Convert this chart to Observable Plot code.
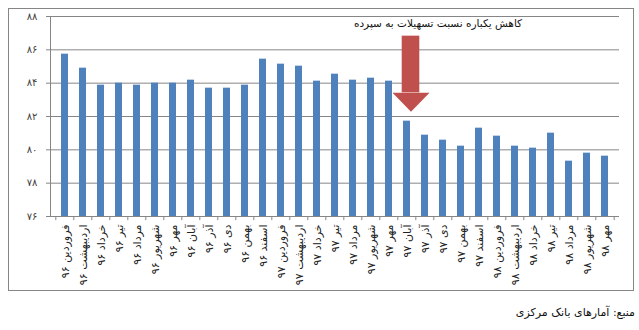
<!DOCTYPE html>
<html>
<head>
<meta charset="utf-8">
<script src="https://cdn.jsdelivr.net/npm/d3@7"></script>
<script src="https://cdn.jsdelivr.net/npm/@observablehq/plot@0.6"></script>
<style>
  html, body { margin: 0; padding: 0; background: #fff; }
  body { width: 639px; height: 330px; position: relative; font-family: "DejaVu Sans", sans-serif; }
  #box { position: absolute; left: 8px; top: 8px; width: 624px; height: 281px; border: 1px solid #868686; }
  #box svg { display: block; }
  #caption { position: absolute; right: 4px; top: 305px; font-size: 11px; direction: rtl; color: #111; line-height: 16px; }
</style>
</head>
<body>
<div id="box"></div>
<div id="caption">منبع: آمارهای بانک مرکزی</div>
<script>
const months = ["فروردین","اردیبهشت","خرداد","تیر","مرداد","شهریور","مهر","آبان","آذر","دی","بهمن","اسفند"];
const categories = [
  ...months.map(m => m + " ۹۶"),
  ...months.map(m => m + " ۹۷"),
  ...months.slice(0, 7).map(m => m + " ۹۸")
];
const values = [
  85.74, 84.9, 83.88, 84.0, 83.88, 84.0, 84.0, 84.18, 83.7, 83.7, 83.88, 85.44,
  85.14, 85.02, 84.12, 84.54, 84.18, 84.3, 84.12, 81.72, 80.88, 80.58, 80.22, 81.3,
  80.82, 80.22, 80.1, 81.0, 79.32, 79.8, 79.62
];
const yTicks = [76, 78, 80, 82, 84, 86, 88];
const noteText = "کاهش یکباره نسبت تسهیلات به سپرده";
const noteMonth = "آذر ۹۷";
const noteY = 87.55;
const arrowMonth = "آبان ۹۷";
const arrowTop = 86.82;
const arrowHeadBase = 83.42;

const data = categories.map((c, i) => ({month: c, value: values[i]}));
const fa = n => String(n).replace(/\d/g, d => "۰۱۲۳۴۵۶۷۸۹"[d]);

const W = 624, H = 281, mL = 41, mR = 14, mT = 7, mB = 74;
const step = (W - mL - mR) / categories.length;
const yMin = yTicks[0];
const font = "DejaVu Sans, sans-serif";

const headSymbol = {
  draw(ctx) {
    ctx.moveTo(-18.5, 0);
    ctx.lineTo(18.5, 0);
    ctx.lineTo(0, 19);
    ctx.closePath();
  }
};

const chart = Plot.plot({
  width: W, height: H,
  marginLeft: mL, marginRight: mR, marginTop: mT, marginBottom: mB,
  style: {fontFamily: font, background: "transparent", color: "#222"},
  x: {domain: categories, paddingInner: 0.6, paddingOuter: 0.3, label: null},
  y: {domain: [yTicks[0], yTicks[yTicks.length - 1]], label: null},
  marks: [
    Plot.gridY(yTicks, {stroke: "#868686", strokeOpacity: 1}),
    Plot.frame({anchor: "left", stroke: "#868686"}),
    Plot.ruleX(categories, {x: d => d, dx: -step / 2, y1: () => yMin, y2: () => yMin - 0.25, stroke: "#868686"}),
    Plot.ruleX(categories.slice(-1), {x: d => d, dx: step / 2, y1: () => yMin, y2: () => yMin - 0.25, stroke: "#868686"}),
    Plot.barY(data, {x: "month", y1: () => yMin, y2: "value", fill: "#4F81BD"}),
    Plot.axisY(yTicks, {tickFormat: fa, tickSize: 4, tickPadding: 9, fontSize: 10, stroke: "#868686", fill: "#444"}),
    Plot.axisX({tickRotate: -90, tickSize: 0, tickPadding: 8, fontSize: 11, fill: "#222"}),
    Plot.barY([arrowMonth], {x: d => d, y1: () => arrowHeadBase, y2: () => arrowTop, fill: "#C0504D", insetLeft: -5.3, insetRight: -5.3, dx: 4}),
    Plot.dot([arrowMonth], {x: d => d, y: () => arrowHeadBase, symbol: headSymbol, fill: "#C0504D", stroke: "none", dx: 4}),
    Plot.text([noteText], {x: () => noteMonth, y: () => noteY, text: d => d, fontSize: 10.5, dx: 13, fill: "#111"})
  ]
});
document.getElementById("box").appendChild(chart);
</script>
</body>
</html>
